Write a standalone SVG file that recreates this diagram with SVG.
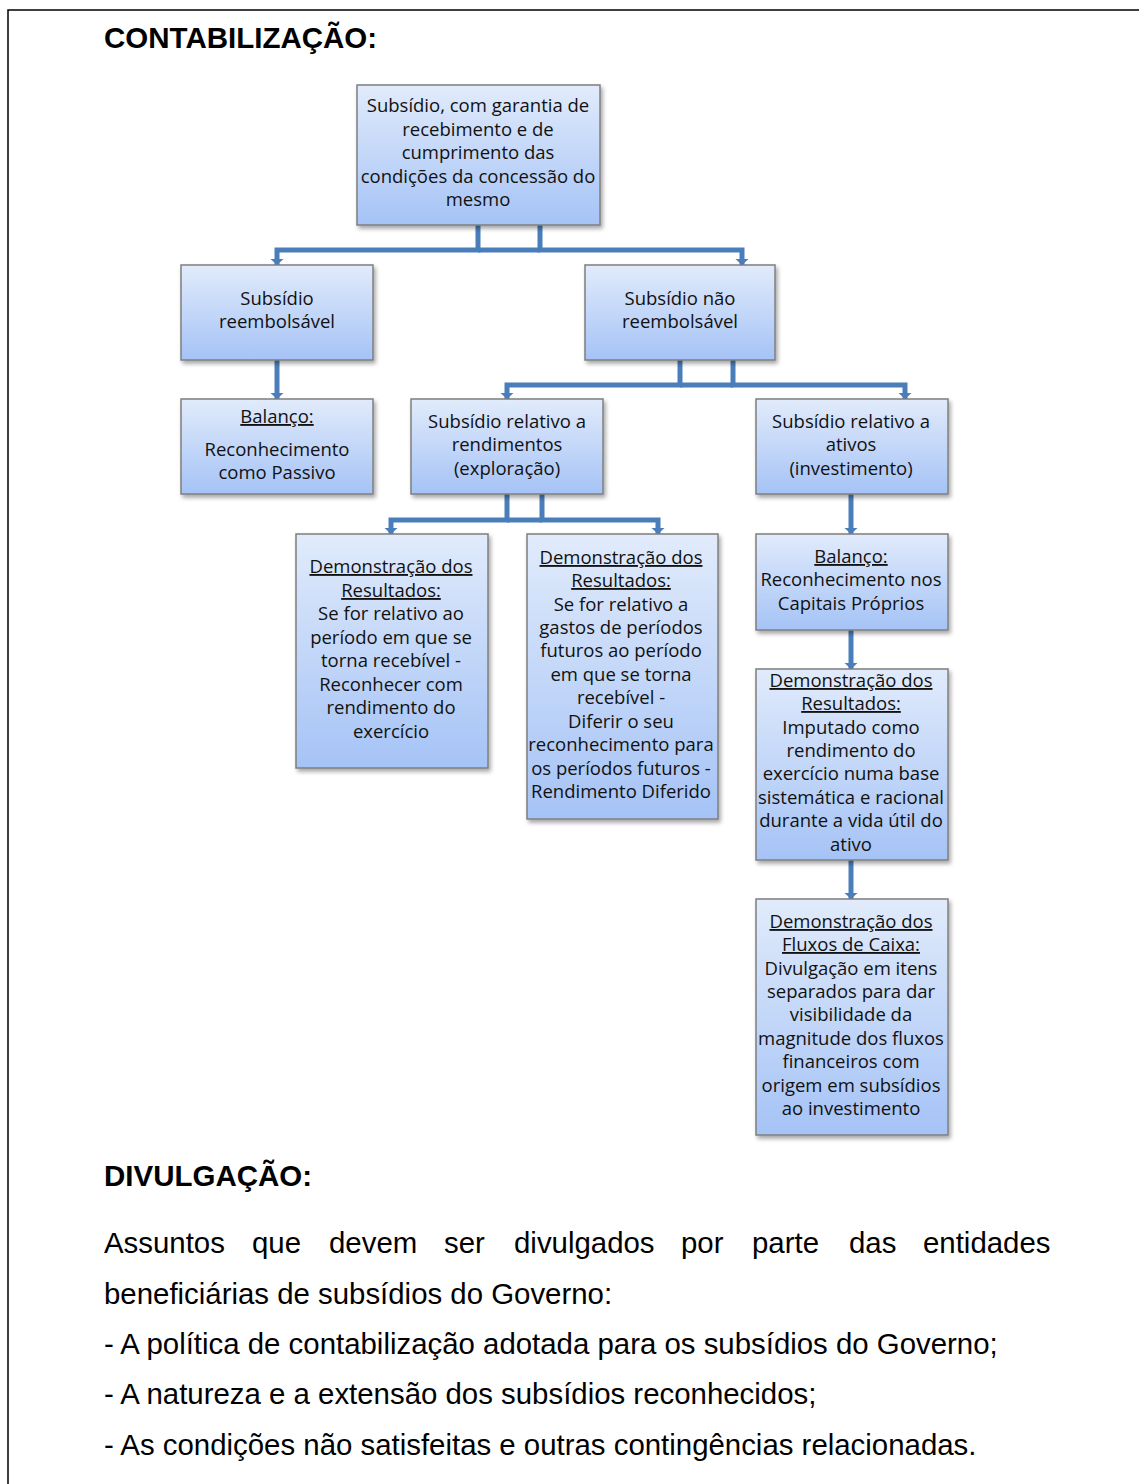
<svg xmlns="http://www.w3.org/2000/svg" width="1139" height="1484" viewBox="0 0 1139 1484">
<style>
.bx{fill:url(#g);stroke:#7f7f7f;stroke-width:1.5;filter:url(#sh)}
.t{font-family:"Open Sans","DejaVu Sans",sans-serif;font-size:18.5px;fill:#111;text-anchor:middle}
.u{text-decoration:underline}
.c{fill:none;stroke:#4a7ebb;stroke-width:5;marker-end:url(#ar)}
.l{fill:none;stroke:#4a7ebb;stroke-width:5}
.h{font-family:"Liberation Sans",Arial,sans-serif;font-size:29.5px;font-weight:bold;fill:#000}
.p{font-family:"Liberation Sans",Arial,sans-serif;font-size:29.4px;fill:#000}
</style>
<defs>
<linearGradient id="g" x1="0" y1="0" x2="0" y2="1">
<stop offset="0" stop-color="#e1ebfb"/>
<stop offset="1" stop-color="#a5c3f6"/>
</linearGradient>
<filter id="sh" x="-10%" y="-10%" width="130%" height="130%">
<feDropShadow dx="2" dy="3" stdDeviation="2" flood-color="#000" flood-opacity="0.35"/>
</filter>
<marker id="ar" markerUnits="userSpaceOnUse" markerWidth="10" markerHeight="16" refX="6" refY="0" orient="auto" overflow="visible">
<path d="M0,-6.5 L6,0 L0,6.5 z" fill="#4a7ebb"/>
</marker>
</defs>
<rect width="1139" height="1484" fill="#fff"/>
<path d="M8,1484 V10 H1139" fill="none" stroke="#000" stroke-width="1.5"/>
<text class="h" x="104" y="48">CONTABILIZAÇÃO:</text>

<g id="connectors">
<path class="l" d="M478,250 H540"/>
<path class="l" d="M680,385 H733"/>
<path class="l" d="M507,520 H542"/>
<path class="c" d="M478,225 V250 H277 V265"/>
<path class="c" d="M540,225 V250 H742 V265"/>
<path class="c" d="M277,360 V399"/>
<path class="c" d="M680,360 V385 H507 V399"/>
<path class="c" d="M733,360 V385 H905 V399"/>
<path class="c" d="M507,494 V520 H391 V534"/>
<path class="c" d="M542,494 V520 H658 V534"/>
<path class="c" d="M851,494 V534"/>
<path class="c" d="M851,630 V669"/>
<path class="c" d="M851,860 V899"/>
</g>

<g id="n1">
<rect class="bx" x="357" y="85" width="243" height="140"/>
<text class="t"><tspan x="478" y="112">Subsídio, com garantia de</tspan><tspan x="478" y="136">recebimento e de</tspan><tspan x="478" y="159">cumprimento das</tspan><tspan x="478" y="183">condições da concessão do</tspan><tspan x="478" y="206">mesmo</tspan></text>
</g>
<g id="n2">
<rect class="bx" x="181" y="265" width="192" height="95"/>
<text class="t"><tspan x="277" y="305">Subsídio</tspan><tspan x="277" y="328">reembolsável</tspan></text>
</g>
<g id="n3">
<rect class="bx" x="585" y="265" width="190" height="95"/>
<text class="t"><tspan x="680" y="305">Subsídio não</tspan><tspan x="680" y="328">reembolsável</tspan></text>
</g>
<g id="n4">
<rect class="bx" x="181" y="399" width="192" height="95"/>
<text class="t"><tspan class="u" x="277" y="423">Balanço:</tspan><tspan x="277" y="456">Reconhecimento</tspan><tspan x="277" y="479">como Passivo</tspan></text>
</g>
<g id="n5">
<rect class="bx" x="411" y="399" width="192" height="95"/>
<text class="t"><tspan x="507" y="428">Subsídio relativo a</tspan><tspan x="507" y="451">rendimentos</tspan><tspan x="507" y="475">(exploração)</tspan></text>
</g>
<g id="n6">
<rect class="bx" x="756" y="399" width="192" height="95"/>
<text class="t"><tspan x="851" y="428">Subsídio relativo a</tspan><tspan x="851" y="451">ativos</tspan><tspan x="851" y="475">(investimento)</tspan></text>
</g>
<g id="n7">
<rect class="bx" x="296" y="534" width="192" height="234"/>
<text class="t"><tspan class="u" x="391" y="573">Demonstração dos</tspan><tspan class="u" x="391" y="597">Resultados:</tspan><tspan x="391" y="620">Se for relativo ao</tspan><tspan x="391" y="644">período em que se</tspan><tspan x="391" y="667">torna recebível -</tspan><tspan x="391" y="691">Reconhecer com</tspan><tspan x="391" y="714">rendimento do</tspan><tspan x="391" y="738">exercício</tspan></text>
</g>
<g id="n8">
<rect class="bx" x="527" y="534" width="191" height="285"/>
<text class="t"><tspan class="u" x="621" y="564">Demonstração dos</tspan><tspan class="u" x="621" y="587">Resultados:</tspan><tspan x="621" y="611">Se for relativo a</tspan><tspan x="621" y="634">gastos de períodos</tspan><tspan x="621" y="657">futuros ao período</tspan><tspan x="621" y="681">em que se torna</tspan><tspan x="621" y="704">recebível -</tspan><tspan x="621" y="728">Diferir o seu</tspan><tspan x="621" y="751">reconhecimento para</tspan><tspan x="621" y="775">os períodos futuros -</tspan><tspan x="621" y="798">Rendimento Diferido</tspan></text>
</g>
<g id="n9">
<rect class="bx" x="756" y="534" width="192" height="96"/>
<text class="t"><tspan class="u" x="851" y="563">Balanço:</tspan><tspan x="851" y="586">Reconhecimento nos</tspan><tspan x="851" y="610">Capitais Próprios</tspan></text>
</g>
<g id="n10">
<rect class="bx" x="756" y="669" width="192" height="191"/>
<text class="t"><tspan class="u" x="851" y="687">Demonstração dos</tspan><tspan class="u" x="851" y="710">Resultados:</tspan><tspan x="851" y="734">Imputado como</tspan><tspan x="851" y="757">rendimento do</tspan><tspan x="851" y="780">exercício numa base</tspan><tspan x="851" y="804">sistemática e racional</tspan><tspan x="851" y="827">durante a vida útil do</tspan><tspan x="851" y="851">ativo</tspan></text>
</g>
<g id="n11">
<rect class="bx" x="756" y="899" width="192" height="236"/>
<text class="t"><tspan class="u" x="851" y="928">Demonstração dos</tspan><tspan class="u" x="851" y="951">Fluxos de Caixa:</tspan><tspan x="851" y="975">Divulgação em itens</tspan><tspan x="851" y="998">separados para dar</tspan><tspan x="851" y="1021">visibilidade da</tspan><tspan x="851" y="1045">magnitude dos fluxos</tspan><tspan x="851" y="1068">financeiros com</tspan><tspan x="851" y="1092">origem em subsídios</tspan><tspan x="851" y="1115">ao investimento</tspan></text>
</g>

<text class="h" x="104" y="1186">DIVULGAÇÃO:</text>
<text class="p" y="1253"><tspan x="104">Assuntos</tspan><tspan x="252">que</tspan><tspan x="329">devem</tspan><tspan x="444">ser</tspan><tspan x="514">divulgados</tspan><tspan x="681">por</tspan><tspan x="752">parte</tspan><tspan x="849">das</tspan><tspan x="923">entidades</tspan></text>
<text class="p" x="104" y="1304">beneficiárias de subsídios do Governo:</text>
<text class="p" x="104" y="1354">- A política de contabilização adotada para os subsídios do Governo;</text>
<text class="p" x="104" y="1404">- A natureza e a extensão dos subsídios reconhecidos;</text>
<text class="p" x="104" y="1455">- As condições não satisfeitas e outras contingências relacionadas.</text>
</svg>
